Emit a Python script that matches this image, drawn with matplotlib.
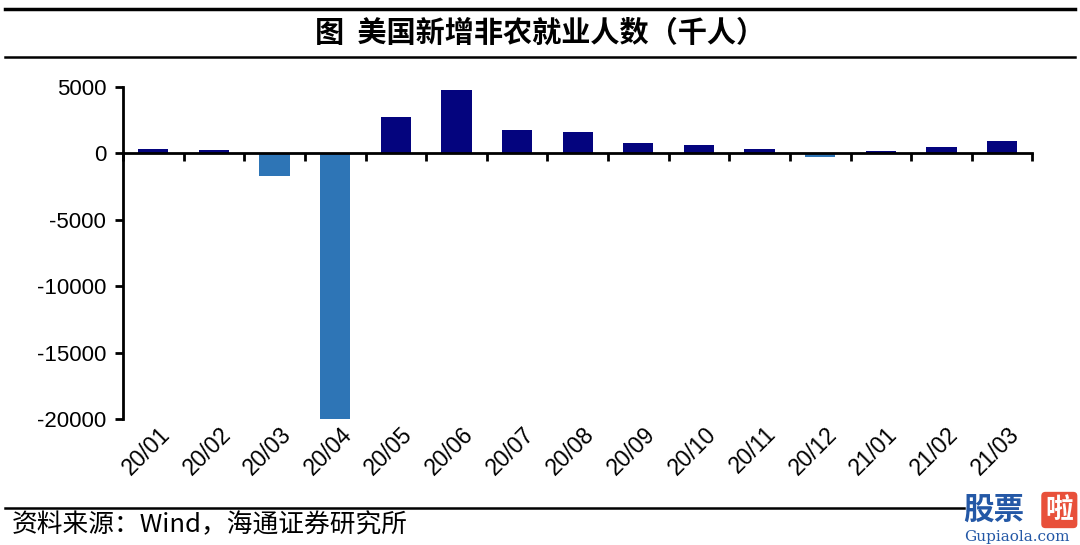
import numpy as np
import matplotlib
matplotlib.use("Agg")
import matplotlib.pyplot as plt
from matplotlib.transforms import blended_transform_factory
from matplotlib.lines import Line2D

# ==========================================
# DATA
# ==========================================
months = ["20/01", "20/02", "20/03", "20/04", "20/05", "20/06", "20/07", "20/08",
          "20/09", "20/10", "20/11", "20/12", "21/01", "21/02", "21/03"]
payrolls = [310, 290, -1680, -20679, 2725, 4781, 1726, 1583,
            780, 650, 300, -300, 200, 470, 916]
y_ticks = [5000, 0, -5000, -10000, -15000, -20000]

title = "图  美国新增非农就业人数（千人）"
source = "资料来源：Wind，海通证券研究所"

POS_COLOR = "#04047E"
NEG_COLOR = "#2E75B6"

plt.rcParams["font.family"] = ["Liberation Sans", "Noto Sans CJK SC", "DejaVu Sans"]
cjk = ["Noto Sans CJK SC", "DejaVu Sans"]

# ==========================================
# FIGURE
# ==========================================
fig = plt.figure(figsize=(10.8, 5.45), dpi=100)
ax = fig.add_axes([0.1139, 0.2312, 0.842, 0.6092])

x = np.arange(len(months))
colors = [POS_COLOR if v >= 0 else NEG_COLOR for v in payrolls]
ax.bar(x, payrolls, width=0.5, color=colors, zorder=2)

ax.set_xlim(-0.5, len(months) - 0.5)
ax.set_ylim(-20000, 5000)

# spines
for s in ["top", "right"]:
    ax.spines[s].set_visible(False)
ax.spines["bottom"].set_position(("data", 0))
ax.spines["bottom"].set_linewidth(2)
ax.spines["left"].set_linewidth(2)
ax.spines["bottom"].set_zorder(3)

ax.set_yticks(y_ticks)
ax.set_yticklabels([str(t) for t in y_ticks], fontsize=16)
ax.tick_params(axis="y", direction="out", length=6, width=2, pad=6)

# x ticks at category boundaries, labels placed at bottom
ax.set_xticks(np.arange(-0.5, len(months) + 0.5, 1))
ax.set_xticklabels([])
ax.tick_params(axis="x", direction="out", length=6, width=2)

trans = blended_transform_factory(ax.transData, ax.transAxes)
for xi, lab in zip(x, months):
    ax.text(xi + 0.22, -0.035, lab, transform=trans, rotation=45,
            rotation_mode="anchor", ha="right", va="center", fontsize=16.5)

# ==========================================
# TITLE / FRAME LINES / SOURCE
# ==========================================
fig.add_artist(Line2D([0.005, 0.995], [1 - 9 / 545, 1 - 9 / 545], color="black", lw=2.5))
fig.add_artist(Line2D([0.005, 0.995], [1 - 57 / 545, 1 - 57 / 545], color="black", lw=1.8))
fig.add_artist(Line2D([0.005, 0.893], [1 - 508 / 545, 1 - 508 / 545], color="black", lw=1.8))

fig.text(0.5, 1 - 33 / 545, title, ha="center", va="center", fontsize=21,
         family=cjk, fontweight="bold")
fig.text(0.011, 1 - 525 / 545, source, ha="left", va="center", fontsize=18.5, family=cjk)

# watermark
fig.text(0.892, 1 - 510 / 545, "股票", ha="left", va="center", fontsize=22,
         fontweight="bold", color="#2458A6", family=cjk)
fig.text(0.968, 1 - 510 / 545, "啦", ha="left", va="center", fontsize=20,
         fontweight="bold", color="white", family=cjk,
         bbox=dict(boxstyle="round,pad=0.15", fc="#E8503A", ec="none"))
fig.text(0.893, 1 - 537 / 545, "Gupiaola.com", ha="left", va="center", fontsize=11,
         color="#2458A6", family=["DejaVu Serif"])

fig.savefig("out.png", dpi=100)
